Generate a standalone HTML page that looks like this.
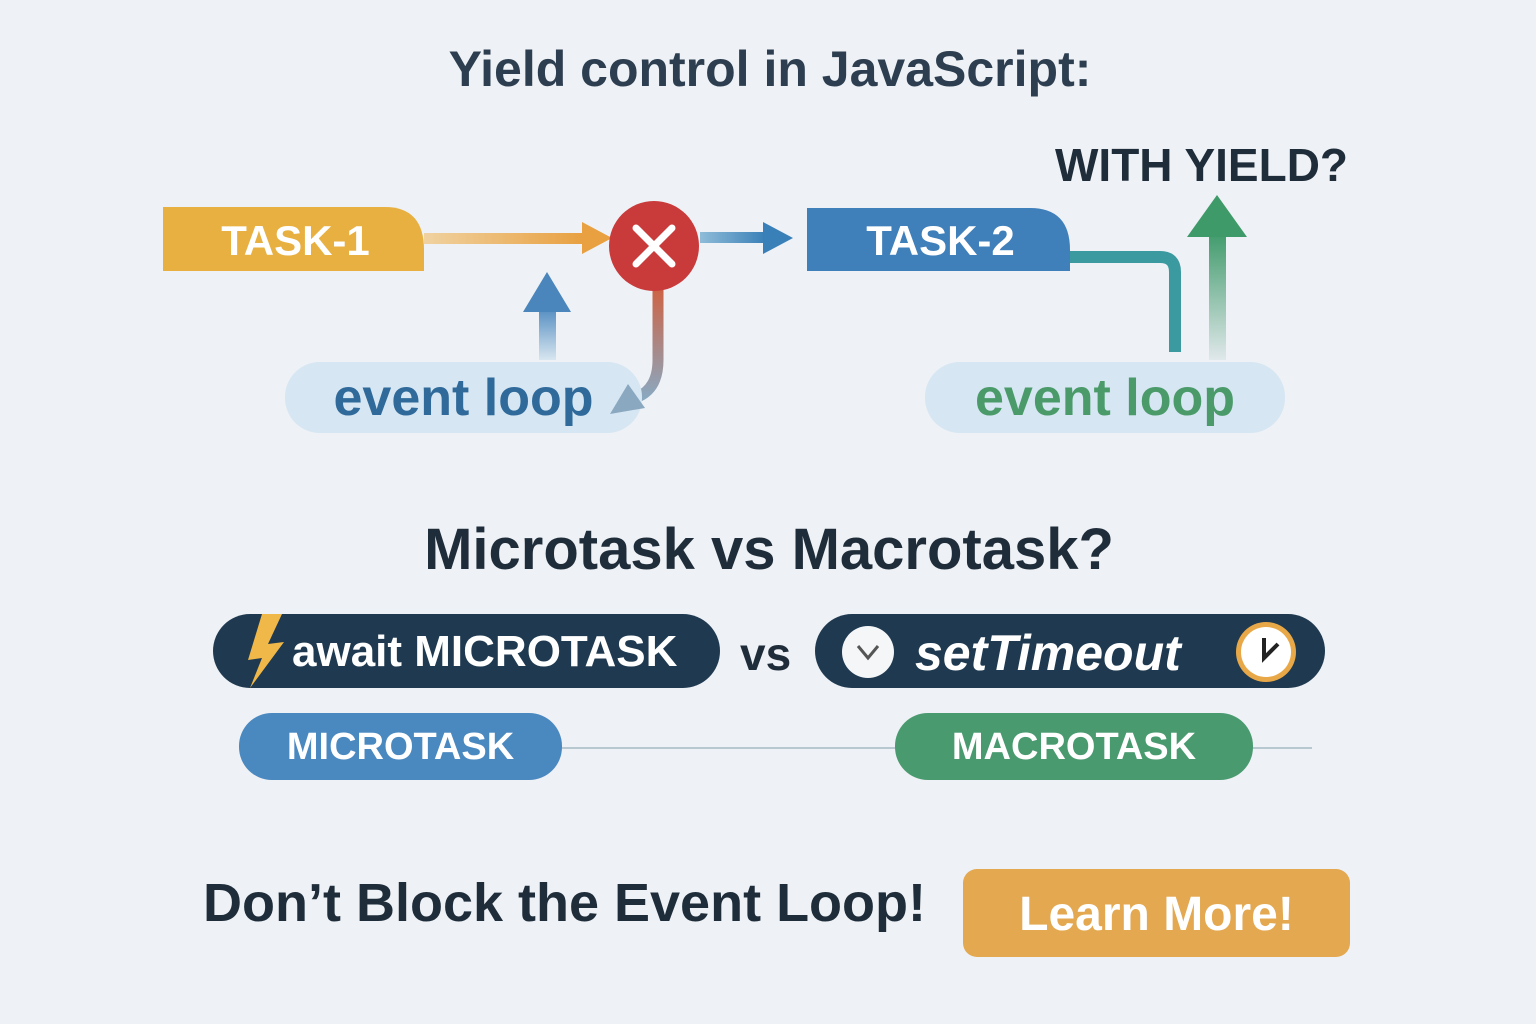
<!DOCTYPE html>
<html><head><meta charset="utf-8"><style>
html,body{margin:0;padding:0}
body{width:1536px;height:1024px;background:#eef1f5;position:relative;overflow:hidden;font-family:"Liberation Sans","DejaVu Sans",sans-serif}
.t{position:absolute;white-space:nowrap;font-weight:bold}
</style></head><body>
<svg width="1536" height="1024" style="position:absolute;left:0;top:0">
<defs>
<linearGradient id="ga" x1="0" x2="1"><stop offset="0" stop-color="#f0d2a0"/><stop offset="1" stop-color="#e8a040"/></linearGradient>
<linearGradient id="gb" x1="0" x2="1"><stop offset="0" stop-color="#8fbcd8"/><stop offset="1" stop-color="#3a80b8"/></linearGradient>
<linearGradient id="gu" x1="0" y1="1" x2="0" y2="0"><stop offset="0" stop-color="#d8e6f0"/><stop offset="1" stop-color="#3f7fba"/></linearGradient>
<linearGradient id="gg" x1="0" y1="1" x2="0" y2="0"><stop offset="0" stop-color="#e0e8ea"/><stop offset="1" stop-color="#3f9a6a"/></linearGradient>
<linearGradient id="gr" x1="0" y1="0" x2="0" y2="1"><stop offset="0" stop-color="#d06040"/><stop offset="1" stop-color="#8aa8c0"/></linearGradient>
</defs>
<path d="M163 207 H385 Q424 207 424 250 V271 H163 Z" fill="#e8b040"/>
<rect x="424" y="233" width="160" height="11" fill="url(#ga)"/>
<polygon points="582,222 612,238 582,254" fill="#e8a040"/>
<rect x="539" y="300" width="17" height="60" fill="url(#gu)"/>
<polygon points="523,312 547,272 571,312" fill="#4a85bb"/>
<path d="M658 285 V360 Q658 390 635 398" stroke="url(#gr)" stroke-width="11" fill="none"/>
<rect x="285" y="362" width="357" height="71" rx="35" fill="#d6e6f2"/>
<rect x="925" y="362" width="360" height="71" rx="35" fill="#d6e6f2"/>
<polygon points="610,414 628,384 645,408" fill="#8aa8c0"/>
<circle cx="654" cy="246" r="45" fill="#c93a3a"/>
<path d="M636 228 L672 264 M672 228 L636 264" stroke="#fff" stroke-width="7" stroke-linecap="round"/>
<rect x="700" y="232" width="65" height="11" fill="url(#gb)"/>
<polygon points="763,222 793,238 763,254" fill="#3a80b8"/>
<path d="M807 208 H1030 Q1070 208 1070 250 V271 H807 Z" fill="#3f7fba"/>
<path d="M1070 257 H1160 Q1175 257 1175 272 V352" stroke="#3a9aa0" stroke-width="12" fill="none"/>
<rect x="1209" y="232" width="17" height="128" fill="url(#gg)"/>
<polygon points="1187,237 1217,195 1247,237" fill="#3f9a6a"/>
<rect x="213" y="614" width="507" height="74" rx="37" fill="#1f3a50"/>
<rect x="815" y="614" width="510" height="74" rx="37" fill="#1f3a50"/>
<polygon points="262,614 248,660 262,658 250,688 284,642 268,644 282,614" fill="#f0b848"/>
<circle cx="868" cy="652" r="26" fill="#f4f6f8"/>
<path d="M858 646 L868 658 L878 646" stroke="#555" stroke-width="3" fill="none"/>
<circle cx="1266" cy="652" r="30" fill="#e8a848"/>
<circle cx="1266" cy="652" r="25" fill="#fff"/>
<path d="M1264 638 V658 L1278 644" stroke="#222" stroke-width="4" fill="none"/>
<line x1="562" y1="748" x2="1312" y2="748" stroke="#b8c8d0" stroke-width="2"/>
<rect x="239" y="713" width="323" height="67" rx="33" fill="#4a88c0"/>
<rect x="895" y="713" width="358" height="67" rx="33" fill="#4a9a70"/>
<rect x="963" y="869" width="387" height="88" rx="14" fill="#e3a850"/>
</svg>
<div class="t" style="left:0;width:1540px;text-align:center;top:40px;font-size:50px;color:#2c3e50">Yield control in JavaScript:</div>
<div class="t" style="left:1055px;top:138px;font-size:46px;color:#1f2d3a">WITH YIELD?</div>
<div class="t" style="left:163px;width:265px;text-align:center;top:217px;font-size:42px;color:#fff">TASK-1</div>
<div class="t" style="left:807px;width:267px;text-align:center;top:217px;font-size:42px;color:#fff">TASK-2</div>
<div class="t" style="left:285px;width:357px;text-align:center;top:368px;font-size:52px;color:#2f6a9a">event loop</div>
<div class="t" style="left:925px;width:360px;text-align:center;top:368px;font-size:52px;color:#4a9a6a">event loop</div>
<div class="t" style="left:0;width:1538px;text-align:center;top:516px;font-size:58px;color:#1f2d3a">Microtask vs Macrotask?</div>
<div class="t" style="left:292px;top:627px;font-size:44px;color:#fff">await&nbsp;MICROTASK</div>
<div class="t" style="left:740px;top:627px;font-size:46px;color:#1f2d3a">vs</div>
<div class="t" style="left:915px;top:624px;font-size:50px;color:#fff;font-style:italic">setTimeout</div>
<div class="t" style="left:239px;width:323px;text-align:center;top:726px;font-size:38px;color:#fff">MICROTASK</div>
<div class="t" style="left:895px;width:358px;text-align:center;top:726px;font-size:38px;color:#fff">MACROTASK</div>
<div class="t" style="left:203px;top:872px;font-size:54px;color:#1f2d3a">Don’t Block the Event Loop!</div>
<div class="t" style="left:963px;width:387px;text-align:center;top:887px;font-size:48px;color:#fff">Learn More!</div>
</body></html>
